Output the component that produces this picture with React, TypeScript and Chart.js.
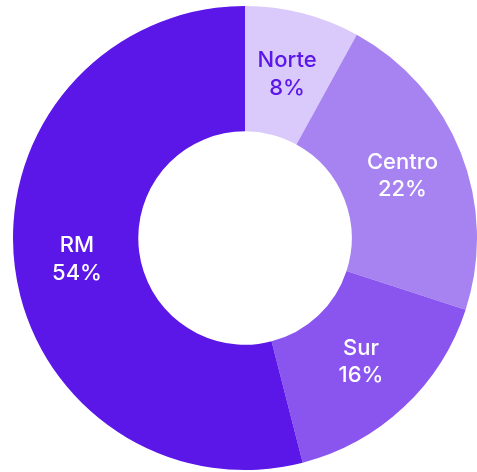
import React, { useEffect, useRef } from "react";
import { Chart, registerables } from "chart.js";

Chart.register(...registerables);

const categories = ["Norte", "Centro", "Sur", "RM"];
const values = [8, 22, 16, 54];
const colors = ["#DACAFB", "#A783F2", "#8A55EE", "#5B16E8"];
const labelColors = ["#5B16E8", "#FFFFFF", "#FFFFFF", "#FFFFFF"];

const labelPlugin = {
  id: "sliceLabels",
  afterDatasetsDraw(chart: any) {
    const ctx = chart.ctx;
    const meta = chart.getDatasetMeta(0);
    ctx.save();
    ctx.font = "500 22px Inter";
    ctx.textAlign = "center";
    ctx.textBaseline = "middle";
    meta.data.forEach((arc: any, i: number) => {
      const p = arc.tooltipPosition();
      ctx.fillStyle = labelColors[i];
      ctx.fillText(categories[i], p.x, p.y - 13.5);
      ctx.fillText(values[i] + "%", p.x, p.y + 14);
    });
    ctx.restore();
  },
};

export default function App() {
  const ref = useRef<HTMLCanvasElement>(null);
  useEffect(() => {
    if (!ref.current) return;
    const chart = new Chart(ref.current, {
      type: "doughnut",
      data: {
        labels: categories,
        datasets: [
          {
            data: values,
            backgroundColor: colors,
            borderWidth: 0,
          },
        ],
      },
      options: {
        responsive: false,
        animation: false,
        cutout: "46%",
        layout: { padding: { left: 13, top: 5, right: 0, bottom: 1 } },
        plugins: {
          legend: { display: false },
          tooltip: { enabled: false },
        },
      },
      plugins: [labelPlugin],
    });
    return () => chart.destroy();
  }, []);
  return (
    <div style={{ position: "absolute", left: 0, top: 0, width: 477, height: 472, background: "#fff" }}>
      <canvas ref={ref} width={477} height={472} style={{ width: 477, height: 472 }} />
    </div>
  );
}
